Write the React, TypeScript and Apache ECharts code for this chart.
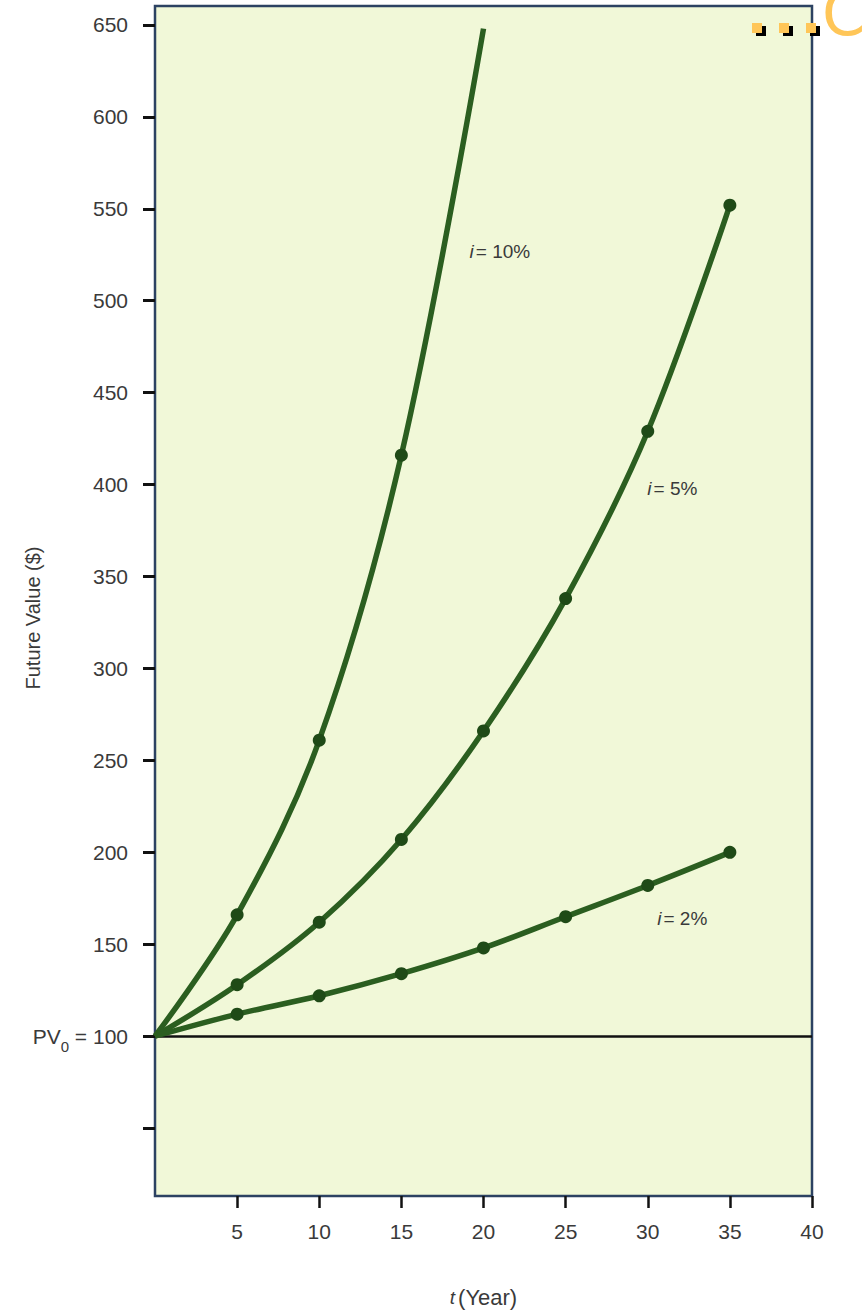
import React, { useEffect, useRef } from "react";
import * as echarts from "echarts";

// Compound growth of a $100 present value at three interest rates
const years = [0, 5, 10, 15, 20, 25, 30, 35];
const fv10 = [100, 166, 261, 416, 648];
const fv5 = [100, 128, 162, 207, 266, 338, 429, 552];
const fv2 = [100, 112, 122, 134, 148, 165, 182, 200];
const seriesNames = ["i = 10%", "i = 5%", "i = 2%"];

const xTickValues = [5, 10, 15, 20, 25, 30, 35, 40];
const yTickValues = [50, 100, 150, 200, 250, 300, 350, 400, 450, 500, 550, 600, 650];
const yLabelValues = [100, 150, 200, 250, 300, 350, 400, 450, 500, 550, 600, 650];

// where the rate labels sit, in (year, value) units
const rateLabelAt: [number, number][] = [
  [21.0, 527],
  [31.5, 398],
  [32.1, 164],
];

const FONT = '"Liberation Sans", Arial, sans-serif';
const LINE = "#2b5e20";
const DOT = "#1f4a17";
const INK = "#3a3a3a";

function buildSeries(values: number[], idx: number) {
  const lastIdx = values.length - 1;
  const data = values.map((v, i) => {
    const hide = i === 0 || (idx === 0 && i === lastIdx);
    return hide
      ? { value: [years[i], v], symbol: "none" }
      : { value: [years[i], v] };
  });
  const [lx, ly] = rateLabelAt[idx];
  const s: any = {
    type: "line",
    name: seriesNames[idx],
    data,
    smooth: 0.35,
    symbol: "circle",
    symbolSize: 13,
    lineStyle: { color: LINE, width: 5.5 },
    itemStyle: { color: DOT },
    z: 3,
    markPoint: {
      symbol: "circle",
      symbolSize: 1,
      itemStyle: { color: "rgba(0,0,0,0)" },
      silent: true,
      data: [
        {
          coord: [lx, ly],
          label: {
            show: true,
            position: "inside",
            formatter: "{it|i}{n|= " + seriesNames[idx].split("= ")[1] + "}",
            rich: {
              it: { fontFamily: FONT, fontStyle: "italic", fontSize: 19, color: INK, padding: [0, 2, 0, 0] },
              n: { fontFamily: FONT, fontSize: 19, color: INK },
            },
          },
        },
      ],
    },
  };
  if (idx === 2) {
    s.markLine = {
      silent: true,
      symbol: "none",
      label: { show: false },
      lineStyle: { color: "#111111", width: 2.5, type: "solid" },
      data: [{ yAxis: 100 }],
      z: 1,
    };
  }
  return s;
}

export default function App() {
  const ref = useRef<HTMLDivElement>(null);

  useEffect(() => {
    if (!ref.current) return;
    const chart = echarts.init(ref.current, undefined, { renderer: "svg" });
    chart.setOption({
      animation: false,
      backgroundColor: "#ffffff",
      grid: {
        left: 155,
        top: 6,
        width: 657,
        height: 1190,
        show: true,
        backgroundColor: "#f1f8d8",
        borderColor: "#2c4262",
        borderWidth: 2.5,
        containLabel: false,
        outerBoundsMode: "none",
      },
      xAxis: {
        type: "value",
        min: 0,
        max: 40,
        interval: 5,
        name: "{it|t}{n|(Year)}",
        nameLocation: "middle",
        nameGap: 90,
        nameMoveOverlap: false,
        nameTextStyle: {
          rich: {
            it: { fontFamily: FONT, fontStyle: "italic", fontSize: 19, color: INK, padding: [0, 3, 0, 0] },
            n: { fontFamily: FONT, fontSize: 22, color: INK },
          },
        },
        axisLine: { show: false },
        splitLine: { show: false },
        axisTick: {
          show: true,
          inside: false,
          length: 12,
          customValues: xTickValues,
          lineStyle: { color: "#111111", width: 2.5 },
        },
        axisLabel: {
          customValues: xTickValues,
          margin: 25,
          fontFamily: FONT,
          fontSize: 21,
          color: INK,
        },
      },
      yAxis: {
        type: "value",
        min: 13.1,
        max: 660.3,
        name: "Future Value ($)",
        nameLocation: "middle",
        nameGap: 112,
        nameRotate: 90,
        nameMoveOverlap: false,
        nameTextStyle: { fontFamily: FONT, fontSize: 20, color: INK, padding: [0, 34, 0, 0] },
        axisLine: { show: false },
        splitLine: { show: false },
        axisTick: {
          show: true,
          inside: false,
          length: 12,
          customValues: yTickValues,
          lineStyle: { color: "#111111", width: 3 },
        },
        axisLabel: {
          customValues: yLabelValues,
          margin: 27,
          fontFamily: FONT,
          fontSize: 21,
          color: INK,
          formatter: (v: number) => (v === 100 ? "{n|PV}{s|0}{n| = 100}" : String(v)),
          rich: {
            n: { fontFamily: FONT, fontSize: 21, color: INK },
            s: { fontFamily: FONT, fontSize: 15, color: INK, padding: [20, 0, 0, 0] },
          },
        },
      },
      series: [buildSeries(fv10, 0), buildSeries(fv5, 1), buildSeries(fv2, 2)],
      graphic: [
        // title fragment in the top-right corner: "...C"
        { type: "rect", shape: { x: 756, y: 26, width: 10, height: 10 }, style: { fill: "#000" } },
        { type: "rect", shape: { x: 783, y: 26, width: 10, height: 10 }, style: { fill: "#000" } },
        { type: "rect", shape: { x: 810, y: 26, width: 10, height: 10 }, style: { fill: "#000" } },
        { type: "rect", shape: { x: 752, y: 23, width: 10, height: 10 }, style: { fill: "#ffc658" } },
        { type: "rect", shape: { x: 779, y: 23, width: 10, height: 10 }, style: { fill: "#ffc658" } },
        { type: "rect", shape: { x: 806, y: 23, width: 10, height: 10 }, style: { fill: "#ffc658" } },
        {
          type: "text",
          x: 822,
          y: 44,
          style: {
            text: "C",
            font: '62px "DejaVu Sans", sans-serif',
            fill: "#ffc658",
            verticalAlign: "bottom",
            textShadowColor: "#000",
            textShadowOffsetX: 3,
            textShadowOffsetY: 3,
            textShadowBlur: 0,
          },
        },
      ],
    });
    return () => chart.dispose();
  }, []);

  return (
    <div
      ref={ref}
      style={{ position: "fixed", left: 0, top: 0, width: 863, height: 1313 }}
    />
  );
}
